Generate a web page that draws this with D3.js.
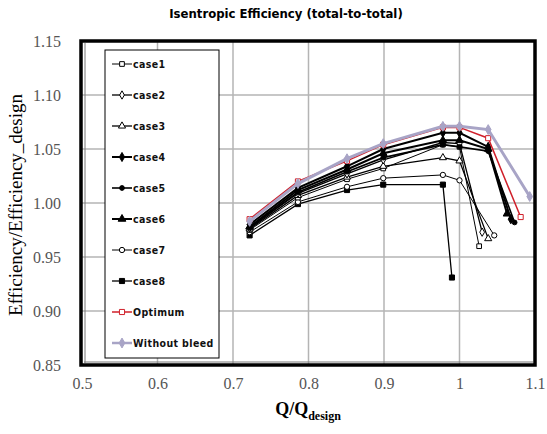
<!DOCTYPE html>
<html>
<head>
<meta charset="utf-8">
<script src="https://cdn.jsdelivr.net/npm/d3@7"></script>
<style>
  body { margin: 0; background: #fff; }
  svg { display: block; }
</style>
</head>
<body>
<div id="chart"></div>
<script>
// Q/Q_design and efficiency ratio per series
var qCase1 = [0.722, 0.786, 0.851, 0.899, 0.978, 1.0, 1.026];
var effCase1 = [0.975, 1.005, 1.022, 1.032, 1.054, 1.052, 0.960];
var qCase2 = [0.722, 0.786, 0.851, 0.899, 0.978, 1.0, 1.030];
var effCase2 = [0.977, 1.009, 1.027, 1.040, 1.056, 1.055, 0.973];
var qCase3 = [0.722, 0.786, 0.851, 0.899, 0.978, 1.0, 1.038];
var effCase3 = [0.976, 1.007, 1.024, 1.034, 1.042, 1.039, 0.967];
var qCase4 = [0.722, 0.786, 0.851, 0.899, 0.978, 1.0, 1.038, 1.068];
var effCase4 = [0.980, 1.014, 1.034, 1.050, 1.065, 1.065, 1.052, 0.985];
var qCase5 = [0.722, 0.786, 0.851, 0.899, 0.978, 1.0, 1.038, 1.073];
var effCase5 = [0.977, 1.010, 1.029, 1.042, 1.054, 1.052, 1.048, 0.982];
var qCase6 = [0.722, 0.786, 0.851, 0.899, 0.978, 1.0, 1.038, 1.063];
var effCase6 = [0.978, 1.012, 1.031, 1.046, 1.058, 1.058, 1.050, 0.990];
var qCase7 = [0.722, 0.786, 0.851, 0.899, 0.978, 1.0, 1.046];
var effCase7 = [0.973, 1.001, 1.015, 1.023, 1.026, 1.021, 0.970];
var qCase8 = [0.722, 0.786, 0.851, 0.899, 0.978, 0.990];
var effCase8 = [0.970, 0.999, 1.012, 1.017, 1.017, 0.931];
var qOptimum = [0.722, 0.786, 0.851, 0.899, 0.978, 1.0, 1.038, 1.081];
var effOptimum = [0.985, 1.020, 1.039, 1.054, 1.070, 1.070, 1.060, 0.987];
var qWithout = [0.722, 0.786, 0.851, 0.899, 0.978, 1.0, 1.038, 1.093];
var effWithout = [0.983, 1.018, 1.041, 1.055, 1.071, 1.071, 1.068, 1.006];

var xTicks = [0.5, 0.6, 0.7, 0.8, 0.9, 1.0, 1.1];
var yTicks = [0.85, 0.90, 0.95, 1.00, 1.05, 1.10, 1.15];

var seriesNames = ["case1", "case2", "case3", "case4", "case5", "case6", "case7", "case8", "Optimum", "Without bleed"];

function zipSeries(q, e) {
    return q.map(function(d, i) { return { q: d, eff: e[i] }; });
}

var series = [
    { name: "case1", pts: zipSeries(qCase1, effCase1), color: "#000", width: 1, sym: d3.symbolSquare, fill: "#fff", size: 22 },
    { name: "case2", pts: zipSeries(qCase2, effCase2), color: "#000", width: 1.3, sym: d3.symbolDiamond, fill: "#fff", size: 20 },
    { name: "case3", pts: zipSeries(qCase3, effCase3), color: "#000", width: 1.3, sym: d3.symbolTriangle, fill: "#fff", size: 22 },
    { name: "case4", pts: zipSeries(qCase4, effCase4), color: "#000", width: 2, sym: d3.symbolDiamond, fill: "#000", size: 24 },
    { name: "case5", pts: zipSeries(qCase5, effCase5), color: "#000", width: 1.6, sym: d3.symbolCircle, fill: "#000", size: 18 },
    { name: "case6", pts: zipSeries(qCase6, effCase6), color: "#000", width: 2, sym: d3.symbolTriangle, fill: "#000", size: 26 },
    { name: "case7", pts: zipSeries(qCase7, effCase7), color: "#000", width: 1, sym: d3.symbolCircle, fill: "#fff", size: 22 },
    { name: "case8", pts: zipSeries(qCase8, effCase8), color: "#000", width: 1.3, sym: d3.symbolSquare, fill: "#000", size: 26 },
    { name: "Optimum", pts: zipSeries(qOptimum, effOptimum), color: "#d0202a", width: 1.5, sym: d3.symbolSquare, fill: "#fff", size: 26 },
    { name: "Without bleed", pts: zipSeries(qWithout, effWithout), color: "#a8a4c6", width: 3, sym: d3.symbolDiamond, fill: "#a8a4c6", size: 28 }
];

var svgWidth = 547, svgHeight = 434;
var plot = { left: 82, right: 535, top: 41, bottom: 365 };

var svg = d3.select("#chart").append("svg")
    .attr("width", svgWidth)
    .attr("height", svgHeight);

var x = d3.scaleLinear().domain([0.5, 1.1]).range([plot.left, plot.right]);
var y = d3.scaleLinear().domain([0.85, 1.15]).range([plot.bottom, plot.top]);

// gridlines
svg.append("g").selectAll("line.vg")
    .data(xTicks.slice(1, -1))
    .enter().append("line")
    .attr("x1", function(d) { return x(d); })
    .attr("x2", function(d) { return x(d); })
    .attr("y1", plot.top).attr("y2", plot.bottom)
    .attr("stroke", "#b4b4b4").attr("stroke-width", 1.5);

svg.append("g").selectAll("line.hg")
    .data(yTicks.slice(1, -1))
    .enter().append("line")
    .attr("y1", function(d) { return y(d); })
    .attr("y2", function(d) { return y(d); })
    .attr("x1", plot.left).attr("x2", plot.right)
    .attr("stroke", "#b4b4b4").attr("stroke-width", 1.5);

// axes (labels only)
var xAxis = svg.append("g")
    .attr("transform", "translate(0," + (plot.bottom + 10) + ")")
    .call(d3.axisBottom(x).tickValues(xTicks).tickSize(0).tickFormat(d3.format("")));
xAxis.select(".domain").remove();
xAxis.selectAll("text")
    .style("font-family", "Liberation Serif, serif")
    .style("font-size", "16px")
    .style("fill", "#555");

var yAxis = svg.append("g")
    .attr("transform", "translate(" + (plot.left - 18) + ",0)")
    .call(d3.axisLeft(y).tickValues(yTicks).tickSize(0).tickFormat(d3.format(".2f")));
yAxis.select(".domain").remove();
yAxis.selectAll("text")
    .style("font-family", "Liberation Serif, serif")
    .style("font-size", "16px")
    .style("fill", "#555");

// series lines
var line = d3.line()
    .x(function(d) { return x(d.q); })
    .y(function(d) { return y(d.eff); });

var drawOrder = [7, 6, 0, 2, 1, 4, 5, 3, 8, 9];
drawOrder.forEach(function(i) {
    var s = series[i];
    svg.append("path")
        .datum(s.pts)
        .attr("fill", "none")
        .attr("stroke", s.color)
        .attr("stroke-width", s.width)
        .attr("d", line);
    svg.selectAll(".m" + i)
        .data(s.pts)
        .enter().append("path")
        .attr("class", "m" + i)
        .attr("transform", function(d) { return "translate(" + x(d.q) + "," + y(d.eff) + ")"; })
        .attr("d", d3.symbol().type(s.sym).size(s.size))
        .attr("fill", s.fill)
        .attr("stroke", s.color)
        .attr("stroke-width", 1);
});

// plot frame
svg.append("rect")
    .attr("x", plot.left - 1).attr("y", plot.top)
    .attr("width", plot.right - plot.left + 1)
    .attr("height", plot.bottom - plot.top)
    .attr("fill", "none")
    .attr("stroke", "#000")
    .attr("stroke-width", 3.5);
svg.append("line")
    .attr("x1", plot.left + 3).attr("x2", plot.left + 3)
    .attr("y1", plot.top + 2).attr("y2", plot.bottom - 2)
    .attr("stroke", "#777").attr("stroke-width", 1);
svg.append("line")
    .attr("x1", plot.left + 2).attr("x2", plot.right - 2)
    .attr("y1", plot.bottom - 3).attr("y2", plot.bottom - 3)
    .attr("stroke", "#777").attr("stroke-width", 1);

// legend
var legend = svg.append("g");
legend.append("rect")
    .attr("x", 105).attr("y", 50)
    .attr("width", 114).attr("height", 308)
    .attr("fill", "#fff")
    .attr("stroke", "#000")
    .attr("stroke-width", 1);

series.forEach(function(s, i) {
    var ly = 64 + i * 31.0;
    legend.append("line")
        .attr("x1", 112).attr("x2", 132)
        .attr("y1", ly).attr("y2", ly)
        .attr("stroke", s.color)
        .attr("stroke-width", Math.min(s.width, 2.5));
    legend.append("path")
        .attr("transform", "translate(122," + ly + ")")
        .attr("d", d3.symbol().type(s.sym).size(s.size))
        .attr("fill", s.fill)
        .attr("stroke", s.color)
        .attr("stroke-width", 1);
    legend.append("text")
        .attr("x", 133).attr("y", ly + 3.5)
        .style("font-family", "DejaVu Sans Condensed, DejaVu Sans, sans-serif")
        .style("font-weight", "bold")
        .style("font-size", "10.5px")
        .style("letter-spacing", "0.4px")
        .style("fill", "#111")
        .text(seriesNames[i]);
});

// title
svg.append("text")
    .attr("x", 286).attr("y", 18)
    .style("text-anchor", "middle")
    .style("font-family", "DejaVu Sans Condensed, DejaVu Sans, sans-serif")
    .style("font-weight", "bold")
    .style("font-size", "13px")
    .text("Isentropic Efficiency (total-to-total)");

// x-axis label
var xl = svg.append("text")
    .attr("x", 308).attr("y", 415)
    .style("text-anchor", "middle")
    .style("font-family", "Liberation Serif, serif")
    .style("font-weight", "bold")
    .style("font-size", "18px");
xl.append("tspan").text("Q/Q");
xl.append("tspan").attr("dy", 5).style("font-size", "12px").text("design");

// y-axis label
svg.append("text")
    .attr("transform", "translate(22," + 205 + ") rotate(-90)")
    .style("text-anchor", "middle")
    .style("font-family", "Liberation Serif, serif")
    .style("font-size", "19px")
    .text("Efficiency/Efficiency_design");
</script>
</body>
</html>
